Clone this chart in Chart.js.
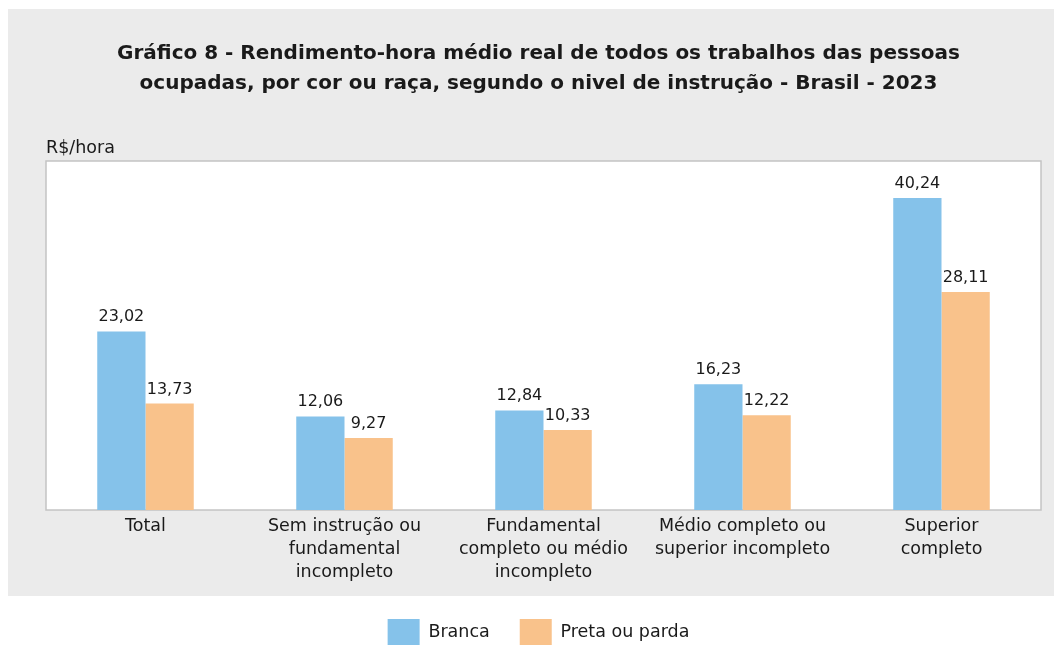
<!DOCTYPE html>
<html lang="pt">
<head>
  <meta charset="UTF-8" />
  <title>Gráfico 8 - Rendimento-hora médio real</title>
  <script src="https://cdn.jsdelivr.net/npm/chart.js"></script>
  <style>
    html, body {
      margin: 0;
      padding: 0;
      background: #ffffff;
    }
    #wrap {
      width: 1054px;
      height: 646px;
      position: relative;
    }
  </style>
</head>
<body>
  <div id="wrap">
    <canvas id="rendChart"></canvas>
  </div>

  <script>
    const categorias = [
      "Total",
      ["Sem instrução ou", "fundamental", "incompleto"],
      ["Fundamental", "completo ou médio", "incompleto"],
      ["Médio completo ou", "superior incompleto"],
      ["Superior", "completo"]
    ];
    const branca = [23.02, 12.06, 12.84, 16.23, 40.24];
    const pretaParda = [13.73, 9.27, 10.33, 12.22, 28.11];
    const titulo = [
      "Gráfico 8 - Rendimento-hora médio real de todos os trabalhos das pessoas",
      "ocupadas, por cor ou raça, segundo o nivel de instrução - Brasil - 2023"
    ];
    const unidade = "R$/hora";

    const fonte = "'DejaVu Sans', sans-serif";

    // fundo cinza, area do grafico branca e rotulos de valor
    const decoracao = {
      id: "decoracao",
      beforeDraw(chart) {
        const { ctx, chartArea: a } = chart;
        ctx.save();
        ctx.fillStyle = "#ebebeb";
        ctx.fillRect(8, 9, 1046, 587);
        ctx.fillStyle = "#ffffff";
        ctx.fillRect(a.left, a.top, a.right - a.left, a.bottom - a.top);
        ctx.strokeStyle = "#c4c4c4";
        ctx.lineWidth = 1.5;
        ctx.strokeRect(a.left, a.top, a.right - a.left, a.bottom - a.top);
        ctx.fillStyle = "#1a1a1a";
        ctx.font = "17.5px " + fonte;
        ctx.textAlign = "left";
        ctx.textBaseline = "alphabetic";
        ctx.fillText(unidade, a.left, a.top - 8);
        ctx.restore();
      },
      afterDatasetsDraw(chart) {
        const { ctx } = chart;
        ctx.save();
        ctx.fillStyle = "#1a1a1a";
        ctx.font = "16px " + fonte;
        ctx.textAlign = "center";
        ctx.textBaseline = "alphabetic";
        chart.data.datasets.forEach((ds, i) => {
          chart.getDatasetMeta(i).data.forEach((bar, j) => {
            const txt = ds.data[j].toFixed(2).replace(".", ",");
            ctx.fillText(txt, bar.x, bar.y - 10);
          });
        });
        ctx.restore();
      }
    };

    const ctx = document.getElementById("rendChart").getContext("2d");
    new Chart(ctx, {
      type: "bar",
      data: {
        labels: categorias,
        datasets: [
          {
            label: "Branca",
            data: branca,
            backgroundColor: "#85c2ea",
            categoryPercentage: 0.485,
            barPercentage: 1.0
          },
          {
            label: "Preta ou parda",
            data: pretaParda,
            backgroundColor: "#f9c28b",
            categoryPercentage: 0.485,
            barPercentage: 1.0
          }
        ]
      },
      options: {
        responsive: true,
        maintainAspectRatio: false,
        animation: false,
        layout: {
          padding: { left: 36, right: 13, top: 0, bottom: -9 }
        },
        scales: {
          x: {
            grid: { display: false, drawTicks: false },
            border: { display: false },
            ticks: {
              color: "#1a1a1a",
              font: { family: fonte, size: 17.5, lineHeight: 1.314 },
              maxRotation: 0,
              autoSkip: false,
              padding: 5
            }
          },
          y: {
            min: 0,
            max: 45,
            grid: { display: false, drawTicks: false },
            border: { display: false },
            ticks: { display: false },
            afterFit(scale) { scale.width = 10; }
          }
        },
        plugins: {
          title: {
            display: true,
            text: titulo,
            color: "#1a1a1a",
            font: { family: fonte, size: 20, weight: "bold", lineHeight: 1.5 },
            padding: { top: 39, bottom: 62 }
          },
          legend: {
            position: "bottom",
            labels: {
              color: "#1a1a1a",
              font: { family: fonte, size: 17.5 },
              boxWidth: 32,
              boxHeight: 26,
              padding: 30
            }
          },
          tooltip: { enabled: false }
        }
      },
      plugins: [decoracao]
    });
  </script>
</body>
</html>
